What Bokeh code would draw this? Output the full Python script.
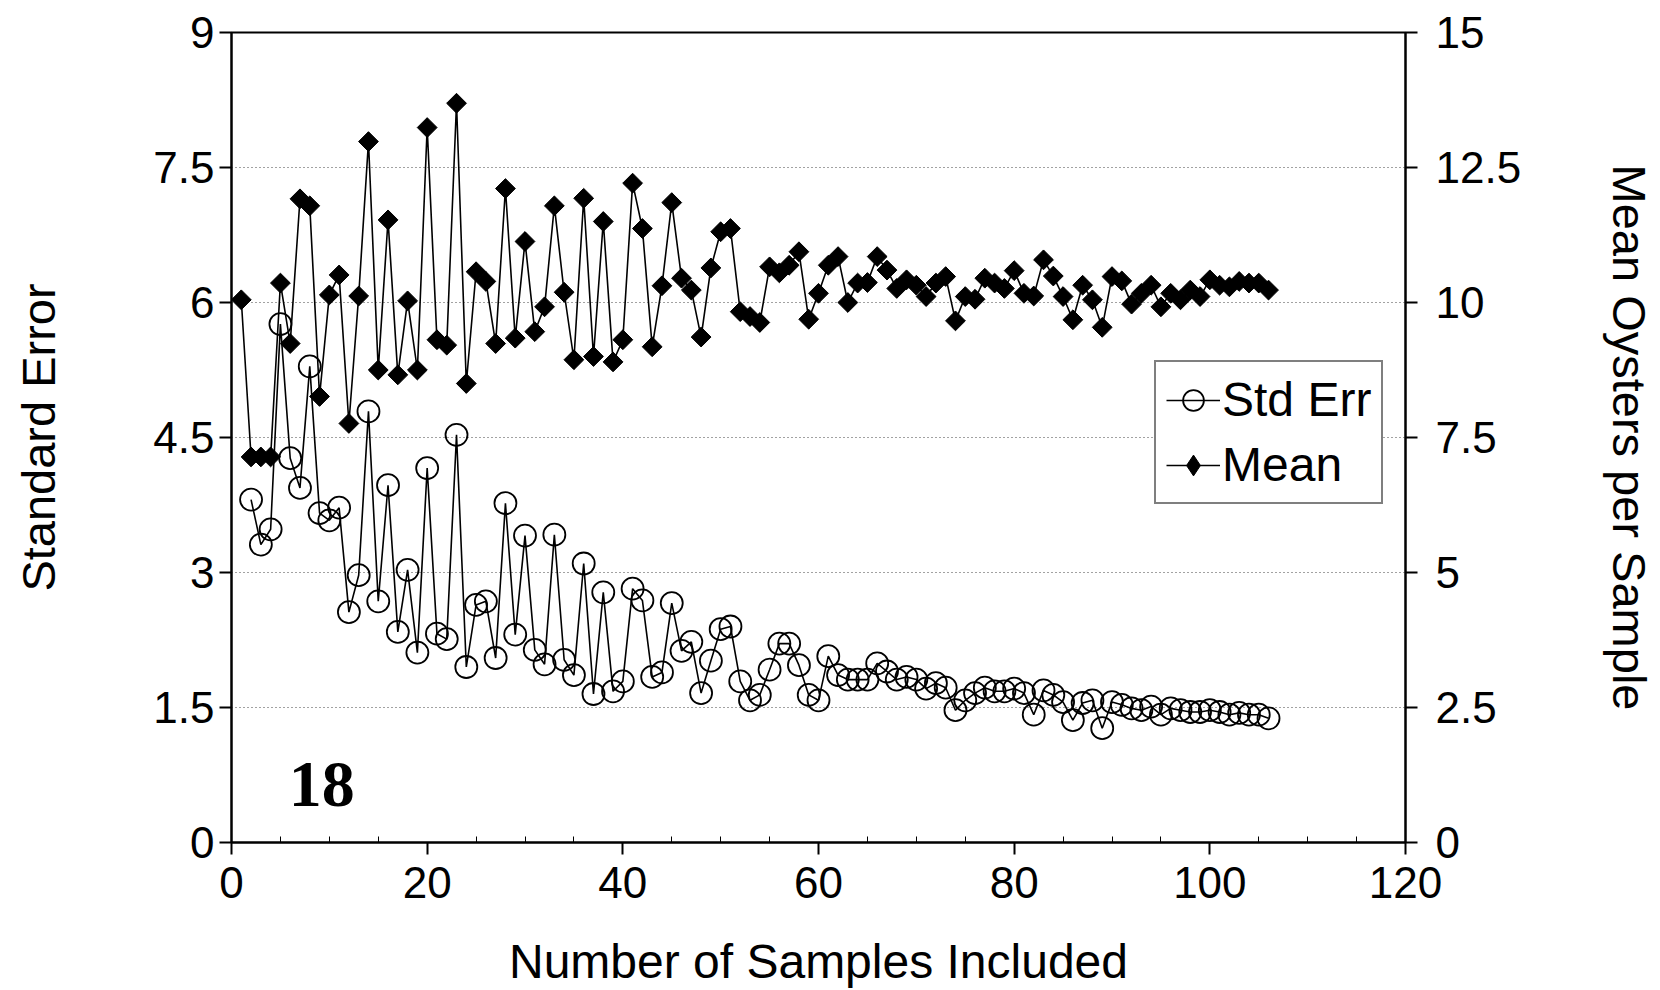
import numpy as np
from bokeh.plotting import figure
from bokeh.models import (Range1d, LinearAxis, FixedTicker, NumeralTickFormatter,
                          Label, Legend, LegendItem)
from bokeh.embed import file_html
from bokeh.resources import INLINE

# ---------------- data ----------------
samples = list(range(1, 107))
mean_oysters = [
    10.05, 7.14, 7.14, 7.14, 10.36, 9.24, 11.92, 11.79, 8.26, 10.14,
    10.51, 7.76, 10.12, 12.98, 8.75, 11.53, 8.66, 10.03, 8.75, 13.24,
    9.31, 9.21, 13.69, 8.50, 10.57, 10.39, 9.24, 12.11, 9.34, 11.13,
    9.46, 9.92, 11.79, 10.19, 8.94, 11.93, 9.00, 11.50, 8.90, 9.31,
    12.21, 11.37, 9.18, 10.31, 11.85, 10.45, 10.23, 9.36, 10.64, 11.31,
    11.37, 9.83, 9.74, 9.63, 10.66, 10.55, 10.69, 10.94, 9.69, 10.17,
    10.69, 10.85, 10.00, 10.36, 10.37, 10.85, 10.60, 10.26, 10.42, 10.32,
    10.11, 10.36, 10.48, 9.66, 10.11, 10.06, 10.45, 10.36, 10.26, 10.59,
    10.17, 10.12, 10.79, 10.49, 10.11, 9.68, 10.32, 10.05, 9.54, 10.48,
    10.40, 9.97, 10.17, 10.32, 9.92, 10.17, 10.05, 10.23, 10.11, 10.42,
    10.32, 10.29, 10.39, 10.36, 10.36, 10.23,
]
se_samples = list(range(2, 107))
std_err = [
    3.81, 3.31, 3.48, 5.76, 4.27, 3.94, 5.29, 3.66, 3.58,
    3.72, 2.56, 2.97, 4.79, 2.68, 3.97, 2.34, 3.03, 2.11, 4.16,
    2.32, 2.26, 4.53, 1.95, 2.64, 2.68, 2.05, 3.77, 2.31, 3.41,
    2.14, 1.98, 3.42, 2.03, 1.86, 3.10, 1.65, 2.78, 1.68, 1.79,
    2.82, 2.69, 1.84, 1.89, 2.66, 2.13, 2.23, 1.66, 2.02, 2.37,
    2.40, 1.79, 1.58, 1.64, 1.92, 2.21, 2.21, 1.97, 1.64, 1.58,
    2.07, 1.86, 1.81, 1.81, 1.81, 1.99, 1.90, 1.81, 1.84, 1.81,
    1.71, 1.77, 1.72, 1.47, 1.58, 1.66, 1.72, 1.68, 1.68, 1.71,
    1.66, 1.42, 1.69, 1.64, 1.56, 1.36, 1.55, 1.58, 1.27, 1.56,
    1.53, 1.49, 1.47, 1.51, 1.42, 1.49, 1.47, 1.45, 1.45, 1.47,
    1.45, 1.42, 1.44, 1.42, 1.42, 1.38,
]
x_ticks = [0, 20, 40, 60, 80, 100, 120]
x_minor_ticks = [5, 10, 15, 25, 30, 35, 45, 50, 55, 65, 70, 75, 85, 90, 95, 105, 110, 115]
left_ticks = [0, 1.5, 3, 4.5, 6, 7.5, 9]
right_ticks = [0, 2.5, 5, 7.5, 10, 12.5, 15]
x_title = "Number of Samples Included"
left_title = "Standard Error"
right_title = "Mean Oysters per Sample"
panel_label = "18"

FONT = "Liberation Sans"
TICK_SIZE = "44px"
TITLE_SIZE = "47px"

p = figure(width=1660, height=990, x_range=Range1d(0, 120), y_range=Range1d(0, 9),
           output_backend="svg", toolbar_location=None,
           min_border_left=231, min_border_right=255, min_border_top=32, min_border_bottom=147)
p.extra_y_ranges = {"right": Range1d(0, 15)}
p.background_fill_color = "white"
p.border_fill_color = "white"
p.outline_line_color = "black"
p.outline_line_width = 2

# grid
p.xgrid.visible = False
p.ygrid.ticker = FixedTicker(ticks=left_ticks)
p.ygrid.grid_line_color = "#444444"
p.ygrid.grid_line_dash = "1 3"
p.ygrid.grid_line_width = 1

# x axis
xa = p.xaxis[0]
xa.ticker = FixedTicker(ticks=x_ticks, minor_ticks=x_minor_ticks)
xa.axis_label = x_title
xa.major_tick_out = 12
xa.major_tick_in = 0
xa.minor_tick_in = 6
xa.minor_tick_out = 0
xa.major_label_standoff = 12
xa.axis_label_standoff = 34

# left y axis
ya = p.yaxis[0]
ya.ticker = FixedTicker(ticks=left_ticks)
ya.formatter = NumeralTickFormatter(format="0.[0]")
ya.axis_label = left_title
ya.major_tick_out = 12
ya.major_tick_in = 0
ya.minor_tick_in = 0
ya.minor_tick_out = 0
ya.major_label_standoff = 5
ya.axis_label_standoff = 85

# right y axis
ra = LinearAxis(y_range_name="right", ticker=FixedTicker(ticks=right_ticks),
                formatter=NumeralTickFormatter(format="0.[0]"), axis_label=right_title)
ra.major_tick_out = 12
ra.major_tick_in = 0
ra.minor_tick_in = 0
ra.minor_tick_out = 0
ra.major_label_standoff = 18
ra.axis_label_standoff = 79
p.add_layout(ra, "right")

for ax in (xa, ya, ra):
    ax.axis_line_color = "black"
    ax.axis_line_width = 2
    ax.major_tick_line_color = "black"
    ax.major_tick_line_width = 2
    ax.minor_tick_line_color = "black"
    ax.minor_tick_line_width = 1
    ax.major_label_text_font = FONT
    ax.major_label_text_font_size = TICK_SIZE
    ax.major_label_text_color = "black"
    ax.axis_label_text_font = FONT
    ax.axis_label_text_font_size = TITLE_SIZE
    ax.axis_label_text_font_style = "normal"
    ax.axis_label_text_color = "black"
xa.axis_label_text_font_size = "48px"

# series
se_line = p.line(se_samples, std_err, line_color="black", line_width=1.6)
se_pts = p.scatter(se_samples, std_err, marker="circle", size=22, fill_color=None,
                   line_color="black", line_width=1.8)
mean_line = p.line(samples, mean_oysters, y_range_name="right", line_color="black", line_width=1.6)
mean_pts = p.scatter(samples, mean_oysters, y_range_name="right", marker="square",
                     angle=np.pi / 4, size=14, fill_color="black", line_color="black")
# diamond drawn on the same points (hidden inside the rotated squares); used as legend key
mean_key = p.scatter(samples, mean_oysters, y_range_name="right", marker="diamond", size=18,
                     fill_color="black", line_color="black")

legend = Legend(items=[LegendItem(label="Std Err", renderers=[se_line, se_pts]),
                       LegendItem(label="Mean", renderers=[mean_line, mean_key])],
                location=(923, 338))
legend.label_text_font = FONT
legend.label_text_font_size = "48px"
legend.label_text_color = "black"
legend.border_line_color = "black"
legend.border_line_width = 2
legend.background_fill_color = "white"
legend.background_fill_alpha = 1
legend.glyph_width = 54
legend.glyph_height = 52
legend.label_standoff = 2
legend.padding = 10
legend.spacing = 10
legend.margin = 0
p.add_layout(legend)

p.add_layout(Label(x=5.85, y=0.64, text=panel_label, text_font="Liberation Serif",
                   text_font_style="bold", text_font_size="66px", text_color="black",
                   text_baseline="alphabetic", text_align="left"))

open("out.html", "w").write(file_html(p, INLINE))
